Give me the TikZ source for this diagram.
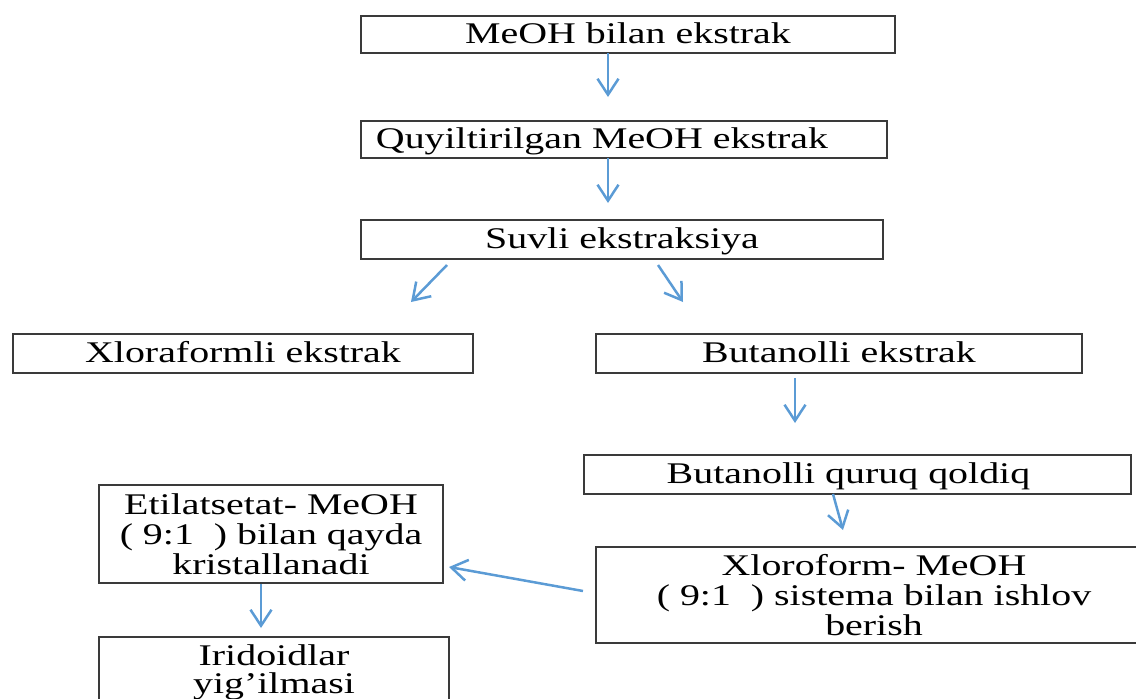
\documentclass[tikz,border=0pt]{standalone}
\usepackage{fontspec}
\setmainfont{Liberation Serif}[FakeStretch=1.33]
\usetikzlibrary{arrows.meta}
\definecolor{arrowblue}{HTML}{5B9BD5}
\definecolor{boxline}{HTML}{3A3A3A}
\begin{document}
\begin{tikzpicture}[x=1pt,y=-1pt,
  flowbox/.style={draw=boxline, line width=1.8pt, inner sep=0pt, align=center,
    font=\fontsize{30}{30}\selectfont},
  onebox/.style={flowbox, text height=22pt, text depth=4pt},
  arr/.style={draw=arrowblue, line width=2.5pt, -{Straight Barb[length=16pt,width=21pt]}}]
\clip (0,0) rectangle (1136,699);
% boxes
\node[onebox, minimum width=534pt, minimum height=37pt] (meoh) at (628,34.5) {MeOH bilan ekstrak};
\node[onebox, minimum width=526pt, minimum height=37pt] (quy) at (624,139.5) {Quyiltirilgan MeOH ekstrak\hspace*{44pt}};
\node[onebox, minimum width=522pt, minimum height=39pt] (suv) at (622,239.5) {Suvli ekstraksiya};
\node[onebox, minimum width=460pt, minimum height=39pt] (xlor) at (243,353.5) {Xloraformli ekstrak};
\node[onebox, minimum width=486pt, minimum height=39pt] (but) at (839,353.5) {Butanolli ekstrak};
\node[onebox, minimum width=547pt, minimum height=39pt] (qur) at (857.5,474.5) {Butanolli quruq qoldiq\hspace*{18pt}};
\node[flowbox, minimum width=556pt, minimum height=96pt] (sis) at (874,595) {Xloroform- MeOH\\( 9:1\ \ ) sistema bilan ishlov\\berish};
\node[flowbox, minimum width=344pt, minimum height=98pt] (etil) at (271,534) {Etilatsetat- MeOH\\( 9:1\ \ ) bilan qayda\\kristallanadi};
\node[flowbox, font=\fontsize{30}{28}\selectfont, minimum width=350pt, minimum height=70pt] (irid) at (274,672) {Iridoidlar\\yig’ilmasi};
% arrow end points
\coordinate (a1s) at (608,53);  \coordinate (a1e) at (608,97);
\coordinate (a2s) at (608,158); \coordinate (a2e) at (608,203);
\coordinate (a3s) at (447,265); \coordinate (a3e) at (411,302);
\coordinate (a4s) at (658,265); \coordinate (a4e) at (683,302);
\coordinate (a5s) at (795,378); \coordinate (a5e) at (795,423);
\coordinate (a6s) at (833,494); \coordinate (a6e) at (843,530);
\coordinate (a7s) at (583,591); \coordinate (a7e) at (449,567);
\coordinate (a8s) at (261,584); \coordinate (a8e) at (261,628);
\draw[arr] (a1s) -- (a1e);
\draw[arr] (a2s) -- (a2e);
\draw[arr] (a3s) -- (a3e);
\draw[arr] (a4s) -- (a4e);
\draw[arr] (a5s) -- (a5e);
\draw[arr] (a6s) -- (a6e);
\draw[arr] (a7s) -- (a7e);
\draw[arr] (a8s) -- (a8e);
\end{tikzpicture}
\end{document}
